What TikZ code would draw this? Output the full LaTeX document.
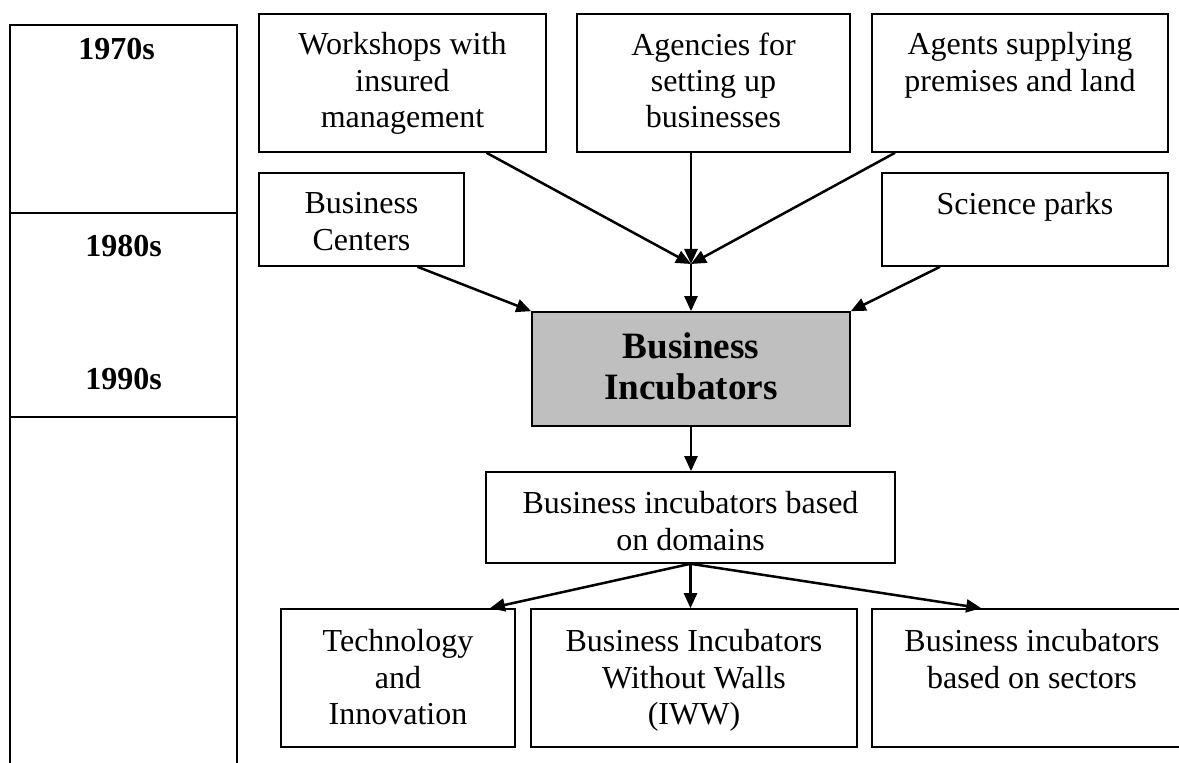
\documentclass[tikz,border=0pt]{standalone}
\usepackage{fontspec}
\setmainfont{Liberation Serif}
\usetikzlibrary{arrows.meta,calc}

\tikzset{
  box/.style={draw, line width=0.8pt, inner sep=0pt, fill=white},
  hub/.style={box, fill=black!25},
  cell/.style={draw, line width=0.8pt, inner sep=0pt, minimum width=113.5pt},
  txt/.style={inner sep=0pt, anchor=north, align=center,
              font=\fontsize{16}{18.2}\selectfont},
  bigtxt/.style={inner sep=0pt, anchor=north, align=center,
                 font=\bfseries\fontsize{18.6}{20.6}\selectfont},
  yr/.style={inner sep=0pt, anchor=north, font=\bfseries\fontsize{16}{18}\selectfont},
  link/.style={line width=1.25pt, -{Triangle[length=7.5pt,width=6.5pt]}},
}

\begin{document}
\begin{tikzpicture}[x=0.5pt, y=-0.5pt]
\useasboundingbox (0,0) rectangle (1179,763);
\clip (0,0) rectangle (1179,763);

% decade column on the left
\node[cell, minimum height=94pt]    (c70) at (123.5,119)   {};
\node[cell, minimum height=102pt]   (c80) at (123.5,315)   {};
\node[cell, minimum height=191.5pt] (c00) at (123.5,608.5) {};
\node[yr] (y70) at (116.5,38)  {1970s};
\node[yr] (y80) at (123.5,235) {1980s};
\node[yr] (y90) at (123.5,368) {1990s};

% forerunners
\node[box, minimum width=143.5pt, minimum height=69pt]   (ws) at (402.5,83)   {};
\node[box, minimum width=136.5pt, minimum height=69pt]   (ag) at (713.5,83)   {};
\node[box, minimum width=148pt,   minimum height=69pt]   (ap) at (1020,83)    {};
\node[box, minimum width=102.5pt, minimum height=46.5pt] (bc) at (361.5,219.5) {};
\node[box, minimum width=143pt,   minimum height=46.5pt] (sp) at (1025,219.5)  {};

\node[txt] (ws-t) at ([yshift=-9.5pt]ws.north) {Workshops with\\insured\\management};
\node[txt] (ag-t) at ([yshift=-9.5pt]ag.north) {Agencies for\\setting up\\businesses};
\node[txt] (ap-t) at ([yshift=-9.5pt]ap.north) {Agents supplying\\premises and land};
\node[txt] (bc-t) at ([yshift=-10pt]bc.north)  {Business\\Centers};
\node[txt] (sp-t) at ([yshift=-10pt]sp.north)  {Science parks};

% central concept
\node[hub, minimum width=159pt, minimum height=57pt] (bi) at (691,369) {};
\node[bigtxt] (bi-t) at ([yshift=-10.5pt]bi.north) {Business\\Incubators};

% successors
\node[box, minimum width=204.5pt, minimum height=45.5pt] (dom) at (690.5,517.5) {};
\node[txt] (dom-t) at ([yshift=-10pt]dom.north) {Business incubators based\\on domains};

\node[box, minimum width=117pt, minimum height=69pt] (tech) at (398,678)  {};
\node[box, minimum width=163pt, minimum height=69pt] (iww)  at (694,678)  {};
\node[box, minimum width=160pt, minimum height=69pt] (sec)  at (1032,678) {};
\node[txt] (tech-t) at ([yshift=-10.5pt]tech.north) {Technology\\and\\Innovation};
\node[txt] (iww-t)  at ([yshift=-10.5pt]iww.north)  {Business Incubators\\Without Walls\\(IWW)};
\node[txt] (sec-t)  at ([yshift=-10.5pt]sec.north)  {Business incubators\\based on sectors};

% junction where the three upper arrows meet
\coordinate (J) at (691,264);

\draw[link] ([xshift=42pt]ws.south)    -- (J);
\draw[link] (ag.south -| J)            -- (J);
\draw[link] ([xshift=-62.5pt]ap.south) -- (J);
\draw[link] (J) -- (J |- bi.north);
\draw[link] ([xshift=28pt]bc.south)    -- (bi.north west);
\draw[link] ([xshift=-42.5pt]sp.south) -- (bi.north east);

\draw[link] (bi.south) -- (bi.south |- dom.north);
\draw[link] (dom.south) -- ([xshift=46pt]tech.north);
\draw[link] (dom.south) -- (dom.south |- iww.north);
\draw[link] (dom.south) -- ([xshift=55pt]sec.north west);
\end{tikzpicture}
\end{document}
